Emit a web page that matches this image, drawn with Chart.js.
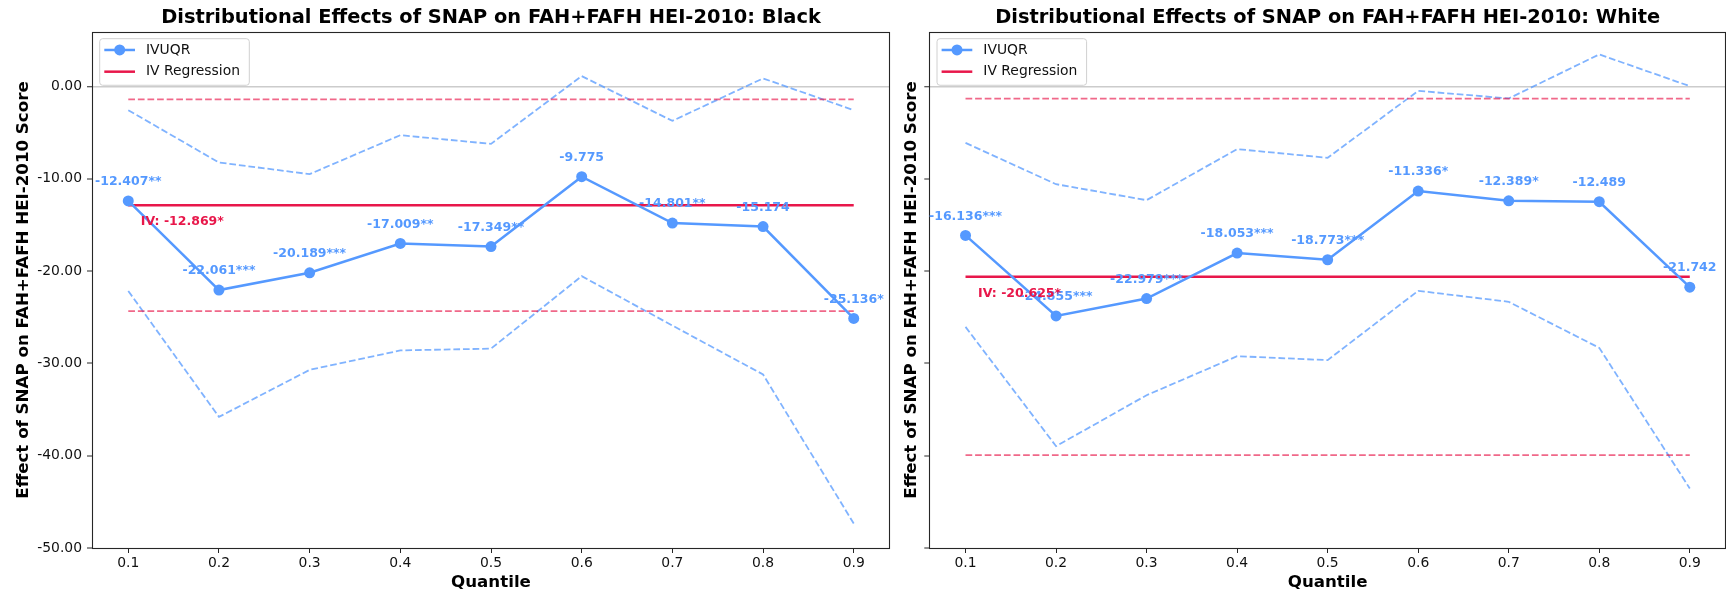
<!DOCTYPE html>
<html>
<head>
<meta charset="utf-8">
<script src="https://cdn.jsdelivr.net/npm/chart.js@4.4.0/dist/chart.umd.min.js"></script>
<style>
  html, body { margin: 0; padding: 0; background: #ffffff; }
  #wrap { position: relative; width: 1726px; height: 595px; overflow: hidden; }
  canvas { position: absolute; top: 0; }
</style>
</head>
<body>
<div id="wrap">
  <canvas id="blackChart" width="898" height="595" style="left:0px"></canvas>
  <canvas id="whiteChart" width="828" height="595" style="left:898px"></canvas>
</div>
<script>
// Quantiles and y-axis ticks
const quantiles = [0.1, 0.2, 0.3, 0.4, 0.5, 0.6, 0.7, 0.8, 0.9];
const yTickValues = [0, -10, -20, -30, -40, -50];

// Black: IVUQR estimates, significance stars, confidence band
const blackEstimates = [-12.407, -22.061, -20.189, -17.009, -17.349, -9.775, -14.801, -15.174, -25.136];
const blackStars = ['**', '***', '***', '**', '**', '', '**', '', '*'];
const blackUpper = [-2.57, -8.24, -9.50, -5.28, -6.22, 1.12, -3.73, 0.87, -2.57];
const blackLower = [-22.15, -35.80, -30.70, -28.60, -28.40, -20.55, -25.90, -31.20, -47.35];
const blackIV = -12.869;
const blackIVStars = '*';
const blackIVBand = [-24.34, -1.40];

// White: IVUQR estimates, significance stars, confidence band
const whiteEstimates = [-16.136, -24.855, -22.979, -18.053, -18.773, -11.336, -12.389, -12.489, -21.742];
const whiteStars = ['***', '***', '***', '***', '***', '*', '*', '', ''];
const whiteUpper = [-6.11, -10.59, -12.32, -6.79, -7.73, -0.48, -1.30, 3.47, 0.03];
const whiteLower = [-26.05, -38.97, -33.45, -29.22, -29.65, -22.14, -23.33, -28.32, -43.55];
const whiteIV = -20.625;
const whiteIVStars = '*';
const whiteIVBand = [-39.93, -1.32];

const FONT = '"DejaVu Sans", "Liberation Sans", sans-serif';
const BLUE = '#5599ff';
const BLUE_DASH = 'rgba(85,153,255,0.75)';
const CRIMSON = '#e8174a';
const CRIMSON_DASH = 'rgba(232,23,74,0.65)';
const SPINE = '#262626';

function buildDatasets(est, upper, lower, iv, ivBand) {
  const pts = arr => quantiles.map((q, i) => ({ x: q, y: arr[i] }));
  const span = v => [{ x: quantiles[0], y: v }, { x: quantiles[quantiles.length - 1], y: v }];
  const dashed = (label, data, color, order) => ({
    label, data, borderColor: color, backgroundColor: color, borderWidth: 1.8,
    borderDash: [6.7, 2.9], pointRadius: 0, pointHoverRadius: 0, fill: false, order
  });
  return [
    { label: 'IVUQR', data: pts(est), borderColor: BLUE, backgroundColor: BLUE, borderWidth: 2.5,
      pointRadius: 5.5, pointHoverRadius: 5.5, pointBorderWidth: 0, pointBackgroundColor: BLUE,
      fill: false, order: 0, legendHandle: 'marker' },
    { label: 'IV Regression', data: span(iv), borderColor: CRIMSON, backgroundColor: CRIMSON,
      borderWidth: 2.5, pointRadius: 0, pointHoverRadius: 0, fill: false, order: 1, legendHandle: 'line' },
    dashed('IV upper', span(ivBand[1]), CRIMSON_DASH, 2),
    dashed('IV lower', span(ivBand[0]), CRIMSON_DASH, 2),
    dashed('IVUQR upper', pts(upper), BLUE_DASH, 3),
    dashed('IVUQR lower', pts(lower), BLUE_DASH, 3)
  ];
}

// Box around the plotting area
const framePlugin = {
  id: 'frame',
  afterDatasetsDraw(chart) {
    const a = chart.chartArea, ctx = chart.ctx;
    ctx.save();
    ctx.strokeStyle = SPINE;
    ctx.lineWidth = 1.1;
    ctx.strokeRect(Math.round(a.left) + 0.5, Math.round(a.top) + 0.5,
                   Math.round(a.right) - Math.round(a.left) - 1, Math.round(a.bottom) - Math.round(a.top));
    ctx.restore();
  }
};

// Estimate labels above each IVUQR point and the IV coefficient label
const valueLabelPlugin = {
  id: 'valueLabels',
  afterDatasetsDraw(chart, args, opts) {
    const ctx = chart.ctx;
    const meta = chart.getDatasetMeta(0);
    ctx.save();
    ctx.font = 'bold 12.5px ' + FONT;
    ctx.textBaseline = 'middle';
    ctx.textAlign = 'center';
    ctx.fillStyle = BLUE;
    meta.data.forEach((pt, i) => {
      ctx.fillText(opts.values[i].toFixed(3) + opts.stars[i], pt.x, pt.y - 19);
    });
    const xs = chart.scales.x, ys = chart.scales.y;
    ctx.textAlign = 'left';
    ctx.fillStyle = CRIMSON;
    ctx.fillText('IV: ' + opts.iv.toFixed(3) + opts.ivStars,
                 xs.getPixelForValue(quantiles[0]) + 12.5, ys.getPixelForValue(opts.iv) + 17);
    ctx.restore();
  }
};

// Framed legend in the upper-left corner of the plot
const boxLegendPlugin = {
  id: 'boxLegend',
  afterDraw(chart) {
    const a = chart.chartArea, ctx = chart.ctx;
    const entries = chart.data.datasets.filter(d => d.legendHandle);
    const x0 = a.left + 7.7, y0 = a.top + 6.7, w = 149.6, h = 46.6, r = 3;
    ctx.save();
    ctx.beginPath();
    ctx.roundRect(x0, y0, w, h, r);
    ctx.fillStyle = 'rgba(255,255,255,0.8)';
    ctx.fill();
    ctx.strokeStyle = '#d0d0d0';
    ctx.lineWidth = 1;
    ctx.stroke();
    ctx.font = '13.9px ' + FONT;
    ctx.textBaseline = 'middle';
    ctx.textAlign = 'left';
    entries.forEach((d, i) => {
      const y = a.top + 18 + i * 21.7;
      ctx.strokeStyle = d.borderColor;
      ctx.lineWidth = d.borderWidth;
      ctx.beginPath();
      ctx.moveTo(a.left + 12.3, y);
      ctx.lineTo(a.left + 43, y);
      ctx.stroke();
      if (d.legendHandle === 'marker') {
        ctx.fillStyle = d.borderColor;
        ctx.beginPath();
        ctx.arc(a.left + 27.7, y, 5.5, 0, Math.PI * 2);
        ctx.fill();
      }
      ctx.fillStyle = '#111';
      ctx.fillText(d.label, a.left + 54, y);
    });
    ctx.restore();
  }
};

function makeChart(canvasId, cfg) {
  return new Chart(document.getElementById(canvasId), {
    type: 'line',
    data: { datasets: buildDatasets(cfg.est, cfg.upper, cfg.lower, cfg.iv, cfg.ivBand) },
    plugins: [framePlugin, valueLabelPlugin, boxLegendPlugin],
    options: {
      responsive: false,
      animation: false,
      devicePixelRatio: 1,
      layout: { autoPadding: false, padding: { left: 0, right: cfg.rightPad, top: 0, bottom: 0 } },
      elements: { line: { tension: 0 } },
      plugins: {
        legend: { display: false },
        tooltip: { enabled: false },
        title: {
          display: true, text: cfg.title, fullSize: false, color: '#000',
          font: { family: FONT, size: 19.4, weight: 'bold' },
          padding: { top: 6.5, bottom: 2.2 }
        },
        valueLabels: { values: cfg.est, stars: cfg.stars, iv: cfg.iv, ivStars: cfg.ivStars }
      },
      scales: {
        x: {
          type: 'linear', min: 0.06, max: 0.94,
          afterBuildTicks: s => { s.ticks = quantiles.map(v => ({ value: v })); },
          afterFit: s => { s.height = 47; s.paddingLeft = 0; s.paddingRight = 0; },
          border: { display: false },
          grid: { drawOnChartArea: false, drawTicks: true, tickLength: 5, tickColor: SPINE, tickWidth: 1 },
          ticks: { autoSkip: false, maxRotation: 0, padding: 2, color: '#111',
                   font: { family: FONT, size: 13.9 }, callback: v => Number(v).toFixed(1) },
          title: { display: true, text: 'Quantile', color: '#000',
                   font: { family: FONT, size: 16.67, weight: 'bold' }, padding: { top: 0, bottom: 2 } }
        },
        y: {
          type: 'linear', min: -50, max: 5.9,
          afterBuildTicks: s => { s.ticks = yTickValues.map(v => ({ value: v })); },
          afterFit: s => { s.width = cfg.yWidth; s.paddingTop = 0; s.paddingBottom = 0; },
          border: { display: false },
          grid: {
            drawOnChartArea: true, drawTicks: true, tickLength: 5, tickColor: SPINE, tickWidth: 1,
            color: c => (c.tick && c.tick.value === 0) ? '#cccccc' : 'rgba(0,0,0,0)',
            lineWidth: c => (c.tick && c.tick.value === 0) ? 1.5 : 0
          },
          ticks: { padding: 5, color: '#111', font: { family: FONT, size: 13.9 },
                   callback: v => cfg.showYLabels ? Number(v).toFixed(2) : '' },
          title: { display: true, text: 'Effect of SNAP on FAH+FAFH HEI-2010 Score', color: '#000',
                   font: { family: FONT, size: 16.67, weight: 'bold' }, padding: { top: cfg.yTitlePad, bottom: 0 } }
        }
      }
    }
  });
}

makeChart('blackChart', {
  title: 'Distributional Effects of SNAP on FAH+FAFH HEI-2010: Black',
  est: blackEstimates, stars: blackStars, upper: blackUpper, lower: blackLower,
  iv: blackIV, ivStars: blackIVStars, ivBand: blackIVBand,
  yWidth: 92, yTitlePad: 13.3, rightPad: 8, showYLabels: true
});

makeChart('whiteChart', {
  title: 'Distributional Effects of SNAP on FAH+FAFH HEI-2010: White',
  est: whiteEstimates, stars: whiteStars, upper: whiteUpper, lower: whiteLower,
  iv: whiteIV, ivStars: whiteIVStars, ivBand: whiteIVBand,
  yWidth: 31.3, yTitlePad: 3.7, rightPad: 0, showYLabels: false
});
</script>
</body>
</html>
